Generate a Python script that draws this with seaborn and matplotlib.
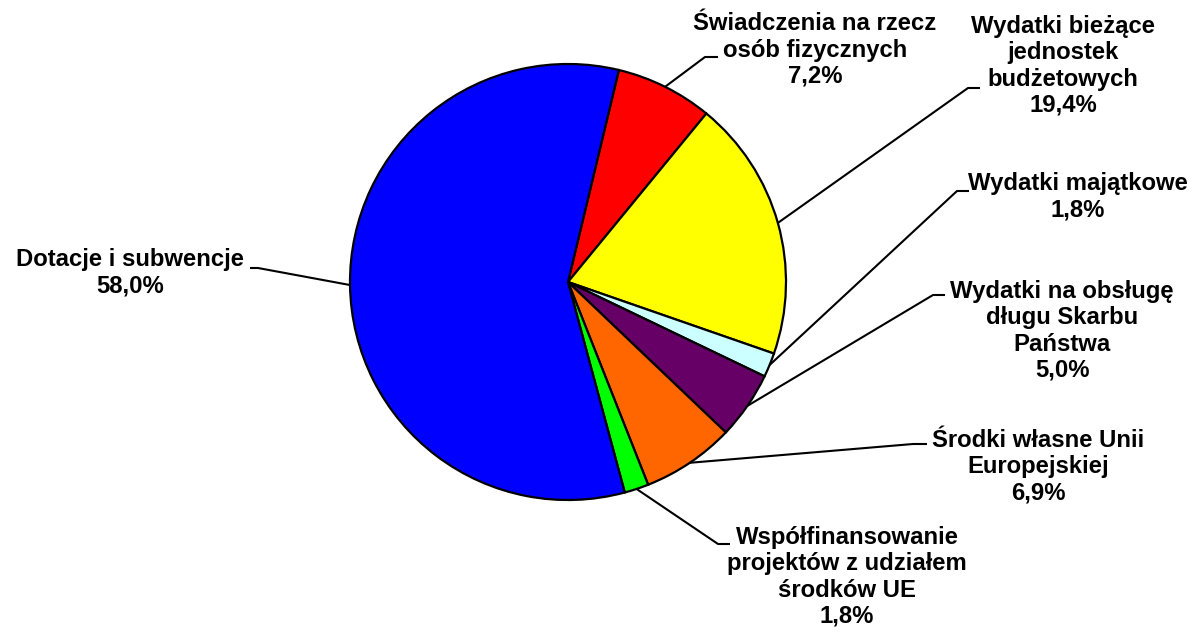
import numpy as np
import matplotlib
matplotlib.use("Agg")
import matplotlib.pyplot as plt
import seaborn as sns

# data
labels = ["Świadczenia na rzecz\nosób fizycznych",
          "Wydatki bieżące\njednostek\nbudżetowych",
          "Wydatki majątkowe",
          "Wydatki na obsługę\ndługu Skarbu\nPaństwa",
          "Środki własne Unii\nEuropejskiej",
          "Współfinansowanie\nprojektów z udziałem\nśrodków UE",
          "Dotacje i subwencje"]
values = [7.2, 19.4, 1.8, 5.0, 6.9, 1.8, 58.0]
colors = ["#FF0000", "#FFFF00", "#CCFFFF", "#660066", "#FF6600", "#00FF00", "#0000FF"]

sns.set_theme(style="white")
plt.rcParams["font.family"] = ["Liberation Sans", "DejaVu Sans"]

W, H = 1200, 632
fig = plt.figure(figsize=(W / 100, H / 100), dpi=100)
ax = fig.add_axes([0, 0, 1, 1])

cx, cy, r = 568, H - 282, 218
wedges, _ = ax.pie(values, colors=sns.color_palette(colors), startangle=76.5,
                   counterclock=False, center=(cx, cy), radius=r,
                   wedgeprops=dict(edgecolor="black", linewidth=1.6))
ax.set_xlim(0, W)
ax.set_ylim(0, H)
ax.set_aspect("equal")
ax.axis("off")

# label layout in pixel coords (y from top): text centre, elbow, line end
layout = [
    ((815, 50), (705, 57), (718, 57)),
    ((1063, 66), (968, 88), (980, 88)),
    ((1078, 197), (957, 191), (969, 191)),
    ((1062, 331), (933, 295), (945, 295)),
    ((1038, 467), (913, 444), (927, 444)),
    ((847, 577), (718, 544), (730, 544)),
    ((130, 273), (258, 268), (250, 268)),
]

for w, lab, val, (tpos, elb, end) in zip(wedges, labels, values, layout):
    mid = np.deg2rad((w.theta1 + w.theta2) / 2)
    ax_ = cx + r * np.cos(mid)
    ay_ = cy + r * np.sin(mid)
    ax.plot([ax_, elb[0], end[0]], [ay_, H - elb[1], H - end[1]],
            color="black", lw=1.5, solid_capstyle="butt")
    txt = f"{lab}\n{val:.1f}%".replace(".", ",")
    ax.text(tpos[0], H - tpos[1], txt, ha="center", va="center",
            multialignment="center", fontsize=17.2, fontweight="bold",
            color="black", linespacing=1.18)

fig.savefig("out.png", dpi=100)
